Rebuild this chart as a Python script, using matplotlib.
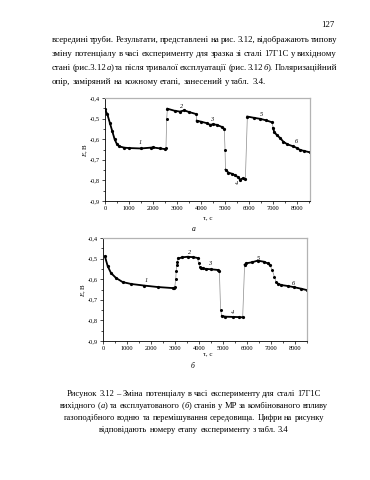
import matplotlib
matplotlib.use('Agg')
import matplotlib.pyplot as plt
from matplotlib.ticker import MultipleLocator, FuncFormatter

SERIF = 'Liberation Serif'
FS = 6.3
FS_CAP = 6.15
W, H = 370, 480

plt.rcParams['mathtext.fontset'] = 'custom'
plt.rcParams['mathtext.it'] = 'Liberation Serif:italic'
plt.rcParams['mathtext.rm'] = 'Liberation Serif'

# ---- text of the page ----
page_num = "127"
para_lines = [
    "всередині труби. Результати, представлені на рис. 3.12, відображають типову",
    "зміну потенціалу в часі експерименту для зразка зі сталі 17Г1С у вихідному",
    "стані (рис.3.12|а|) та після тривалої експлуатації (рис. 3.12|б|). Поляризаційний",
    "опір, заміряний на кожному етапі, занесений у табл. 3.4.",
]
caption_lines = [
    "Рисунок 3.12 – Зміна потенціалу в часі експерименту для сталі 17Г1С",
    "вихідного (|а|) та експлуатованого (|б|) станів у МР за комбінованого впливу",
    "газоподібного водню та перемішування середовища. Цифри на рисунку",
    "відповідають номеру етапу експерименту з табл. 3.4",
]

# ---- chart a: segments of the experiment (time, s ; potential, V) ----
a_t1 = [0, 100, 200, 300, 400, 500, 600, 800, 1000, 1500, 1900, 2000, 2300, 2500]
a_e1 = [-0.455, -0.48, -0.52, -0.56, -0.60, -0.625, -0.635, -0.641, -0.643, -0.645, -0.641, -0.640, -0.645, -0.648]
a_t2 = [2600, 2900, 3125, 3300, 3500, 3800]
a_e2 = [-0.452, -0.462, -0.466, -0.460, -0.468, -0.478]
a_t3 = [3820, 4000, 4236, 4375, 4500, 4650, 4860, 4970]
a_e3 = [-0.510, -0.515, -0.522, -0.530, -0.528, -0.530, -0.540, -0.550]
a_t4 = [5020, 5140, 5300, 5417, 5550, 5625, 5740, 5847]
a_e4 = [-0.748, -0.762, -0.768, -0.775, -0.785, -0.796, -0.790, -0.795]
a_t5 = [5930, 6200, 6458, 6700, 6960]
a_e5 = [-0.490, -0.496, -0.501, -0.508, -0.518]
a_t6 = [7000, 7050, 7153, 7300, 7430, 7600, 7850, 8000, 8125, 8300, 8540]
a_e6 = [-0.545, -0.565, -0.579, -0.595, -0.612, -0.625, -0.635, -0.643, -0.652, -0.657, -0.664]
a_jump_t = [2540, 2570, 5000]
a_jump_e = [-0.643, -0.500, -0.651]
a_lbl_t = [1458, 3196, 4445, 5487, 6529, 7958]
a_lbl_e = [-0.618, -0.440, -0.506, -0.815, -0.482, -0.610]

# ---- chart b ----
b_t1 = [80, 196, 333, 542, 820, 1167, 1720, 2280, 2900, 2970]
b_e1 = [-0.489, -0.537, -0.570, -0.594, -0.614, -0.623, -0.631, -0.638, -0.643, -0.644]
b_t2 = [3140, 3300, 3528, 3750, 3944]
b_e2 = [-0.499, -0.494, -0.491, -0.493, -0.497]
b_t3 = [4083, 4150, 4300, 4500, 4780, 4850]
b_e3 = [-0.544, -0.548, -0.550, -0.552, -0.555, -0.562]
b_t4 = [4950, 5100, 5400, 5650, 5820]
b_e4 = [-0.778, -0.782, -0.783, -0.784, -0.785]
b_t5 = [5900, 5958, 6200, 6445, 6700, 6862, 6950]
b_e5 = [-0.530, -0.523, -0.518, -0.510, -0.515, -0.523, -0.531]
b_t6 = [7300, 7417, 7700, 7970, 8250, 8500]
b_e6 = [-0.622, -0.628, -0.633, -0.639, -0.646, -0.653]
b_jump_t = [2990, 3030, 3050, 3070, 3100, 3980, 4040, 4900, 7050, 7140, 7208]
b_jump_e = [-0.638, -0.600, -0.560, -0.530, -0.515, -0.523, -0.540, -0.750, -0.555, -0.588, -0.612]
b_lbl_t = [1820, 3597, 4430, 5404, 6472, 7944]
b_lbl_e = [-0.607, -0.471, -0.526, -0.763, -0.499, -0.620]

labels = ['1', '2', '3', '4', '5', '6']

fig = plt.figure(figsize=(W / 100, H / 100), dpi=100)
fig.patch.set_facecolor('white')
rend = fig.canvas.get_renderer()


def px(x, y):
    return x / W, 1 - y / H


def draw_line(line, y, left=None, right=None, center=None, fs=FS):
    # '|' switches italic on/off inside a word
    words = line.split(' ')
    items = []
    for w in words:
        parts = w.split('|')
        arts = []
        for k, p in enumerate(parts):
            if p == '':
                continue
            t = fig.text(0, 0, p, fontsize=fs, family=SERIF, va='baseline',
                         style='italic' if k % 2 else 'normal')
            arts.append(t)
        items.append(arts)
    widths = [[a.get_window_extent(rend).width for a in arts] for arts in items]
    wsum = sum(sum(w) for w in widths)
    space = fs * 100 / 72 * 0.25
    if left is not None and right is not None:
        gap = (right - left - wsum) / (len(items) - 1)
        x = left
    else:
        gap = space
        total = wsum + space * (len(items) - 1)
        x = center - total / 2 if center is not None else left
    for arts, ws in zip(items, widths):
        for a, w in zip(arts, ws):
            a.set_position(px(x, y))
            x += w
        x += gap


fig.text(*px(334, 27), page_num, fontsize=FS, family=SERIF, ha='right', va='baseline')
para_y = [42, 56, 70, 84]
for i, line in enumerate(para_lines):
    if i < 3:
        draw_line(line, para_y[i], left=52, right=337)
    else:
        draw_line(line, para_y[i], left=52)

cap_y = [396, 408, 420, 432]
for line, y in zip(caption_lines, cap_y):
    draw_line(line, y, center=194, fs=FS_CAP)


def make_chart(rect, segs, jt, je, lt, le, xmax):
    ax = fig.add_axes(rect)
    all_t = []
    all_e = []
    for t, e in segs:
        all_t += t
        all_e += e
    all_t += jt
    all_e += je
    order = sorted(range(len(all_t)), key=lambda k: all_t[k])
    ax.plot([all_t[k] for k in order], [all_e[k] for k in order], color='0.55', lw=0.5, zorder=1)
    for t, e in segs:
        ax.plot(t, e, color='black', lw=1.3, marker='o', ms=1.3, zorder=2)
    ax.plot(jt, je, 'o', color='black', ms=1.2, zorder=2)
    for s, x, y in zip(labels, lt, le):
        ax.text(x, y, s, fontsize=4.5, family=SERIF, style='italic', ha='center', va='center')
    ax.set_xlim(0, xmax)
    ax.set_ylim(-0.9, -0.4)
    ax.xaxis.set_major_locator(MultipleLocator(1000))
    ax.xaxis.set_minor_locator(MultipleLocator(500))
    ax.yaxis.set_major_locator(MultipleLocator(0.1))
    ax.yaxis.set_minor_locator(MultipleLocator(0.05))
    ax.yaxis.set_major_formatter(FuncFormatter(lambda v, p: ('%.1f' % v).replace('.', ',')))
    ax.tick_params(which='both', direction='out', top=False, right=False, width=0.5,
                   labelsize=4.6, pad=1.5)
    ax.tick_params(which='major', length=2.2)
    ax.tick_params(which='minor', length=1.2)
    for lab in ax.get_xticklabels() + ax.get_yticklabels():
        lab.set_family(SERIF)
    for s in ['top', 'right']:
        ax.spines[s].set_color('0.7')
        ax.spines[s].set_linewidth(0.9)
    for s in ['left', 'bottom']:
        ax.spines[s].set_linewidth(0.6)
    return ax


segs_a = [(a_t1, a_e1), (a_t2, a_e2), (a_t3, a_e3), (a_t4, a_e4), (a_t5, a_e5), (a_t6, a_e6)]
segs_b = [(b_t1, b_e1), (b_t2, b_e2), (b_t3, b_e3), (b_t4, b_e4), (b_t5, b_e5), (b_t6, b_e6)]

make_chart([105 / W, 1 - 201 / H, 205 / W, 103 / H], segs_a, a_jump_t, a_jump_e, a_lbl_t, a_lbl_e, 8540)
make_chart([103 / W, 1 - 341 / H, 204 / W, 103 / H], segs_b, b_jump_t, b_jump_e, b_lbl_t, b_lbl_e, 8500)

# axis titles and sub-figure letters
for xx, yy in [(86, 150), (84, 290)]:
    fig.text(*px(xx, yy), '$E$, В', fontsize=5, family=SERIF, rotation=90, ha='center', va='center')
fig.text(*px(208, 218), 'τ, с', fontsize=5, family=SERIF, ha='center', va='center')
fig.text(*px(194, 229), 'а', fontsize=5.5, family=SERIF, style='italic', ha='center', va='center')
fig.text(*px(208, 354), 'τ, с', fontsize=5, family=SERIF, ha='center', va='center')
fig.text(*px(193, 366), 'б', fontsize=5.5, family=SERIF, style='italic', ha='center', va='center')

fig.savefig('out.png', dpi=100)
